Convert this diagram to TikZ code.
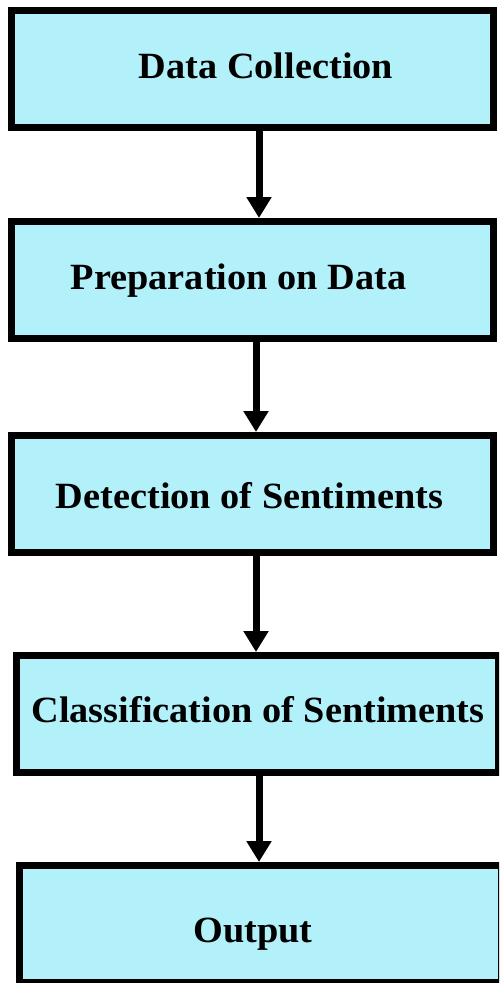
\documentclass[tikz,border=0pt]{standalone}
\usepackage{fontspec}
\setmainfont{Liberation Serif}
\usetikzlibrary{arrows.meta}
\definecolor{boxfill}{HTML}{B2F0FA}
\tikzset{
  stepbox/.style={draw=black, line width=7pt, fill=boxfill, rectangle,
    minimum width=482pt, minimum height=117pt, inner sep=0pt},
  lbl/.style={anchor=base, inner sep=0pt, xscale=1.035, font=\fontsize{37}{40}\selectfont\bfseries},
  flow/.style={line width=7pt, -{Triangle[width=24pt,length=21pt]}}
}
\begin{document}
\begin{tikzpicture}[x=1pt,y=-1pt]
\clip (0,0) rectangle (499,983);
\useasboundingbox (0,0) rectangle (499,983);
\fill[white] (0,0) rectangle (499,983);
\node[stepbox] (b1) at (252.5,69) {};
\node[stepbox] (b2) at (252.5,280) {};
\node[stepbox] (b3) at (252.5,494) {};
\node[stepbox] (b4) at (257.5,714) {};
\node[stepbox] (b5) at (260,924) {};
\node[lbl] (t1) at (266,78) {Data Collection};
\node[lbl] (t2) at (238.5,289) {Preparation on Data};
\node[lbl] (t3) at (249.5,508) {Detection of Sentiments};
\node[lbl] (t4) at (258,722) {Classification of Sentiments};
\node[lbl] (t5) at (253,942) {Output};
\coordinate (x1) at (259,0);
\coordinate (x2) at (256,0);
\coordinate (x3) at (256,0);
\coordinate (x4) at (259,0);
\draw[flow] (b1.south -| x1) -- (b2.north -| x1);
\draw[flow] (b2.south -| x2) -- (b3.north -| x2);
\draw[flow] (b3.south -| x3) -- (b4.north -| x3);
\draw[flow] (b4.south -| x4) -- (b5.north -| x4);
\end{tikzpicture}
\end{document}
